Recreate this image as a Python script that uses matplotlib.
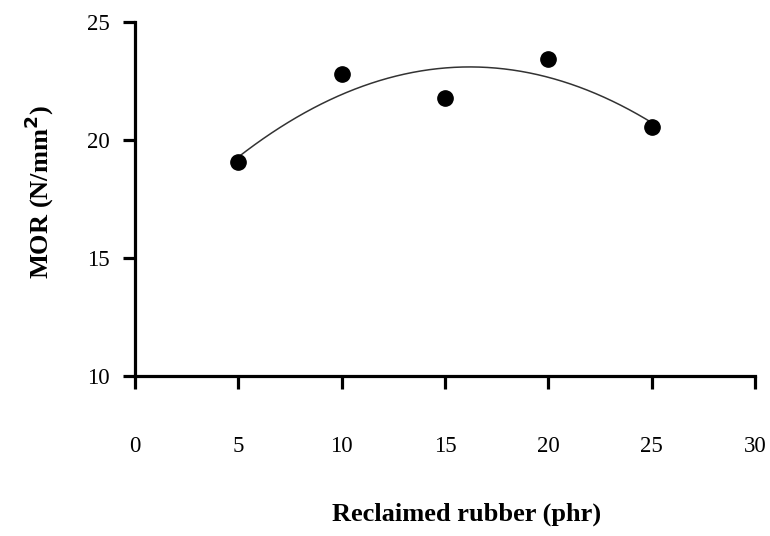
import numpy as np
import matplotlib.pyplot as plt

plt.rcParams['font.family'] = ['Liberation Serif', 'DejaVu Serif']

rubber = [5, 10, 15, 20, 25]
mor = [19.05, 22.8, 21.8, 23.45, 20.55]
xticks = [0, 5, 10, 15, 20, 25, 30]
yticks = [10, 15, 20, 25]

# quadratic trend line through the points
coef = np.polyfit(rubber, mor, 2)
xs = np.linspace(rubber[0], rubber[-1], 200)
ys = np.polyval(coef, xs)

fig = plt.figure(figsize=(7.7, 5.36), dpi=100)
ax = fig.add_axes([0.1753, 0.2985, 0.8052, 0.6605])

ax.plot(xs, ys, color="#333333", lw=1.1)
ax.plot(rubber, mor, "o", color="black", ms=11)

ax.set_xlim(0, 30)
ax.set_ylim(10, 25)
ax.set_xticks(xticks)
ax.set_yticks(yticks)

for s in ["top", "right"]:
    ax.spines[s].set_visible(False)
for s in ["left", "bottom"]:
    ax.spines[s].set_linewidth(2.3)

ax.tick_params(axis="y", length=9, width=2.3, labelsize=16.5, pad=9)
ax.tick_params(axis="x", length=9, width=2.3, labelsize=16.5, pad=34)

ax.set_xlabel("Reclaimed rubber (phr)", fontsize=19, fontweight="bold")
ax.set_ylabel("MOR (N/mm$^{\\mathbf{2}}$)", fontsize=19, fontweight="bold")
ax.xaxis.set_label_coords(0.534, -0.357)
ax.yaxis.set_label_coords(-0.127, 0.52)

fig.savefig("out.png", dpi=100)
